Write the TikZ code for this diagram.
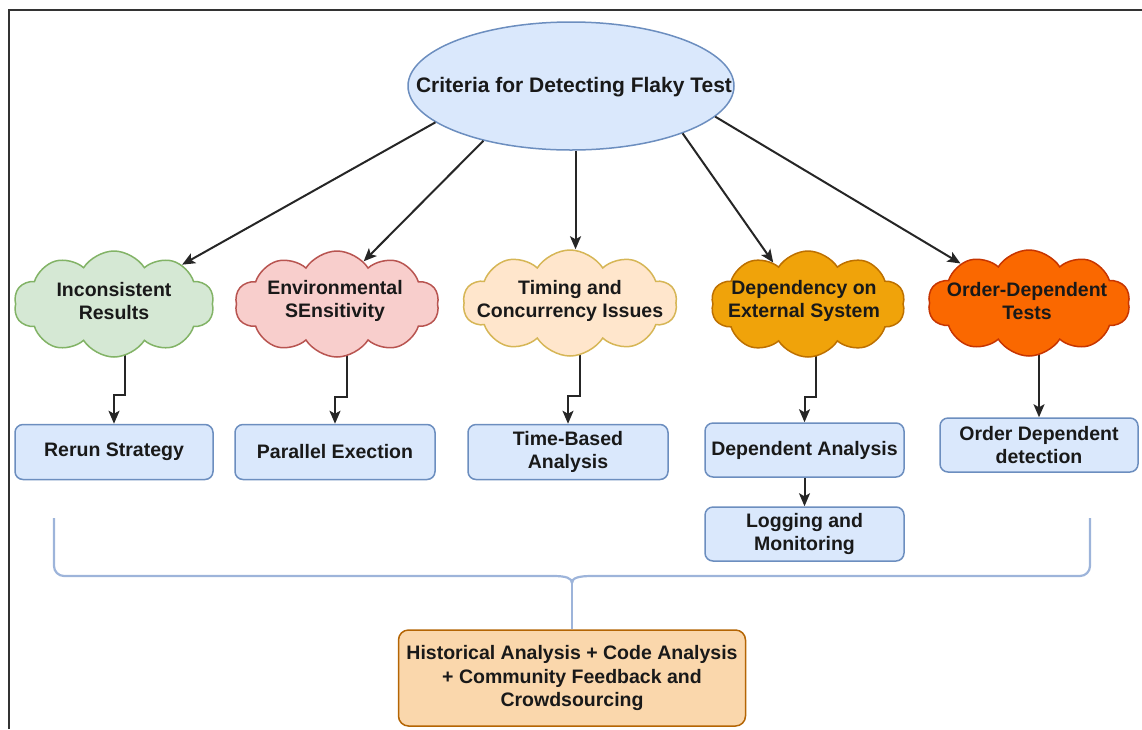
\documentclass[tikz,border=0pt]{standalone}
\usepackage{fontspec}
\setmainfont{Liberation Sans}
\usetikzlibrary{shapes.geometric,shapes.symbols,arrows.meta,backgrounds}
\definecolor{blueF}{HTML}{DAE8FC}
\definecolor{blueD}{HTML}{6C8EBF}
\definecolor{greenF}{HTML}{D5E8D4}
\definecolor{greenD}{HTML}{82B366}
\definecolor{redF}{HTML}{F8CECC}
\definecolor{redD}{HTML}{B85450}
\definecolor{peachF}{HTML}{FFE6CC}
\definecolor{peachD}{HTML}{D6B656}
\definecolor{amberF}{HTML}{F0A30A}
\definecolor{amberD}{HTML}{BD7000}
\definecolor{orangeF}{HTML}{FA6800}
\definecolor{orangeD}{HTML}{C73500}
\definecolor{histF}{HTML}{FAD7AC}
\definecolor{histD}{HTML}{B46504}
\definecolor{braceC}{HTML}{9DB4DA}
\definecolor{lineC}{HTML}{262626}
\begin{document}
\begin{tikzpicture}[x=1pt,y=-1pt,
  txt/.style={font=\fontsize{19.5}{23.5}\selectfont\bfseries, align=center, text=black!90, inner sep=0pt},
  ttl/.style={font=\fontsize{21}{25}\selectfont\bfseries, text=black!90},
  ell/.style={ellipse, draw=blueD, fill=blueF, line width=1.5pt, minimum width=326pt, minimum height=128pt, inner sep=0pt},
  cloudbase/.style 2 args={cloud, cloud puffs=10, cloud puff arc=115, cloud ignores aspect,
      minimum width=200pt, minimum height=106pt, inner sep=0pt, fill=#1, draw=#2, line width=1.5pt},
  bluebox/.style={rectangle, rounded corners=8pt, draw=blueD, fill=blueF, line width=1.5pt,
      minimum width=199pt, minimum height=55pt, inner sep=0pt, txt},
  histbox/.style={rectangle, rounded corners=10pt, draw=histD, fill=histF, line width=1.5pt,
      minimum width=347pt, minimum height=96pt, inner sep=0pt, txt},
  arr/.style={draw=lineC, line width=2pt, -{Stealth[length=13pt,width=11pt,inset=3pt]}},
  bracestyle/.style={draw=braceC, line width=2.2pt, rounded corners=10pt}
]
\useasboundingbox (0,0) rectangle (1142,729);
\draw[line width=2.4pt, color=black!80] (9,729) -- (9,10) -- (1142,10);

% top ellipse
\node[ell] (e) at (571,86) {};
\node[ttl] (et) at (574,87) {Criteria for Detecting Flaky Test};

% clouds
\node[cloudbase={greenF}{greenD}] (c1) at (114,304) {};
\node[txt] (t1) at (114,301) {Inconsistent\\Results};
\node[cloudbase={redF}{redD}, minimum width=204pt] (c2) at (337,304) {};
\node[txt] (t2) at (335,301) {Environmental\\SEnsitivity};
\node[cloudbase={peachF}{peachD}, minimum width=214pt] (c3) at (570,303) {};
\node[txt] (t3) at (570,301) {Timing and\\Concurrency Issues};
\node[cloudbase={amberF}{amberD}, minimum width=194pt] (c4) at (808,304) {};
\node[txt] (t4) at (804,301) {Dependency on\\External System};
\node[cloudbase={orangeF}{orangeD}, minimum width=202pt] (c5) at (1029,303) {};
\node[txt] (t5) at (1027,301) {Order-Dependent\\Tests};

% boxes
\node[bluebox, minimum width=198pt] (b1) at (114,452) {Rerun Strategy};
\node[bluebox, minimum width=200pt] (b2) at (335,452) {Parallel Exection};
\node[bluebox, minimum width=200pt] (b3) at (568,452) {Time-Based\\Analysis};
\node[bluebox, minimum height=54pt] (b4) at (804.5,450) {Dependent Analysis};
\node[bluebox, minimum width=198pt, minimum height=54pt] (b5) at (1039,445) {Order Dependent\\detection};
\node[bluebox, minimum height=54pt] (b6) at (804.5,534) {Logging and\\Monitoring};
\node[histbox] (h) at (572,678) {Historical Analysis + Code Analysis\\+ Community Feedback and\\Crowdsourcing};

% brace
\coordinate (brL) at (54,518);
\coordinate (brR) at (1090,518);
\coordinate (brM) at (572,583);
\begin{scope}[on background layer]
\draw[bracestyle] (brL) -- (54,576) -- (553,576);
\draw[bracestyle] (brR) -- (1090,576) -- (592,576);
\draw[draw=braceC, line width=2.2pt] (553,576) .. controls (566,576) and (572,578) .. (brM);
\draw[draw=braceC, line width=2.2pt] (592,576) .. controls (578,576) and (572,578) .. (brM);
\draw[draw=braceC, line width=2.2pt] (brM) -- (h.north);

% elbow arrows from clouds to boxes
\draw[arr] ([xshift=11pt]c1.center) -- ([xshift=11pt]c1.center |- 0,395) -| (b1.north);
\draw[arr] ([xshift=10pt]c2.center) -- ([xshift=10pt]c2.center |- 0,397) -| (b2.north);
\draw[arr] ([xshift=10pt]c3.center) -- ([xshift=10pt]c3.center |- 0,396) -| (b3.north);
\draw[arr] ([xshift=8pt]c4.center) -- ([xshift=8pt]c4.center |- 0,397) -| (b4.north);
\draw[arr] (c5.center -| b5.north) -- (b5.north);
\end{scope}
\draw[arr] (b4.south) -- (b6.north);

% arrows from ellipse
\draw[arr] (e.195.4) -- (c1.30);
\draw[arr] (e.212.7) -- (c2.58);
\draw[arr] (e.274) -- (e.274 |- c3.north);
\draw[arr] (e.337.6) -- (c4.130);
\draw[arr] (e.348.6) -- (c5.150);
\end{tikzpicture}
\end{document}
